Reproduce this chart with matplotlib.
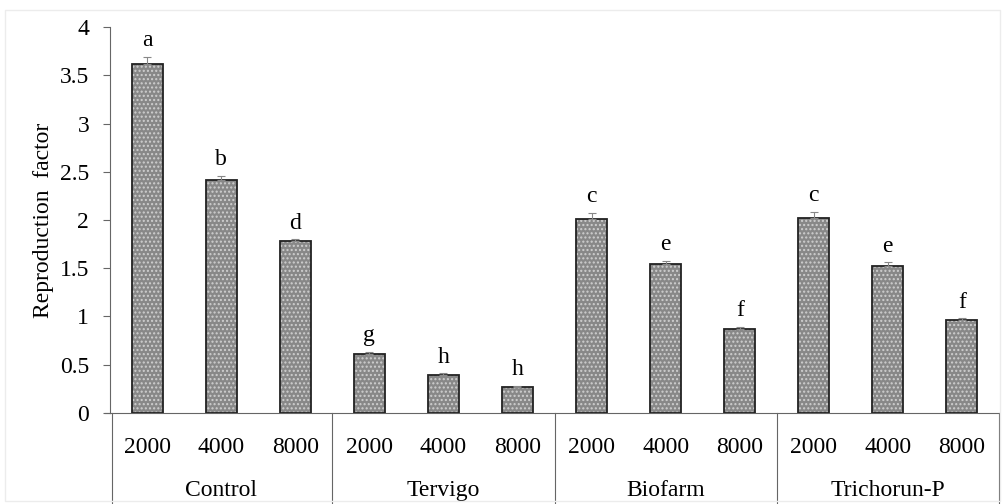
import numpy as np
import matplotlib.pyplot as plt
from matplotlib.transforms import blended_transform_factory

plt.rcParams['font.family'] = ['Liberation Serif', 'DejaVu Serif']

groups = ['Control', 'Tervigo', 'Biofarm', 'Trichorun-P']
doses = ['2000', '4000', '8000']
rf = [3.62, 2.41, 1.78,
      0.61, 0.39, 0.27,
      2.01, 1.54, 0.87,
      2.02, 1.52, 0.96]
err = [0.07, 0.05, 0.02,
       0.02, 0.02, 0.01,
       0.06, 0.04, 0.02,
       0.06, 0.04, 0.02]
letters = ['a', 'b', 'd', 'g', 'h', 'h', 'c', 'e', 'f', 'c', 'e', 'f']

fig = plt.figure(figsize=(10.05, 5.04), dpi=100)
ax = fig.add_axes([0.1095, 0.1806, 0.8845, 0.7658])

x = np.arange(len(rf))
w = 0.42
ax.bar(x, rf, w, color='#888888', edgecolor='none', zorder=2)
ax.bar(x, rf, w, fill=False, hatch='....', edgecolor='#cfcfcf', linewidth=0, zorder=3)
ax.bar(x, rf, w, fill=False, edgecolor='#222222', linewidth=1.3, zorder=4)
ax.errorbar(x, rf, yerr=[np.zeros(len(err)), err], fmt='none', ecolor='#888888',
            elinewidth=0.8, capsize=3, capthick=0.8, zorder=5)
for xi, v, e, l in zip(x, rf, err, letters):
    ax.text(xi, v + e + 0.06, l, ha='center', va='bottom', fontsize=17)

ax.set_xlim(-0.5, len(rf) - 0.5)
ax.set_ylim(0, 4)
ax.set_yticks(np.arange(0, 4.01, 0.5))
ax.set_yticklabels(['0', '0.5', '1', '1.5', '2', '2.5', '3', '3.5', '4'], fontsize=17)
ax.set_xticks(x)
ax.set_xticklabels(doses * 4, fontsize=17)
ax.tick_params(axis='x', length=0, pad=17)
ax.tick_params(axis='y', length=5, width=0.8, color='#666666', pad=10)
ax.set_ylabel('Reproduction  factor', fontsize=17, labelpad=4)

for s in ['top', 'right']:
    ax.spines[s].set_visible(False)
ax.spines['left'].set_color('#666666')
ax.spines['bottom'].set_color('#666666')
ax.spines['left'].set_linewidth(0.8)
ax.spines['bottom'].set_linewidth(0.8)

tr = blended_transform_factory(ax.transData, ax.transAxes)
for d in [-0.47, 2.5, 5.5, 8.5, 11.5]:
    ax.plot([d, d], [0, -0.236], transform=tr, color='#666666', lw=0.8, clip_on=False)
ax.plot([-0.57, -0.5], [0, 0], transform=tr, color='#666666', lw=0.8, clip_on=False)
for i, g in enumerate(groups):
    ax.text(3 * i + 1, -0.2, g, transform=tr, ha='center', va='center', fontsize=17)

fig.patches.append(plt.Rectangle((0.005, 0.005), 0.99, 0.975, transform=fig.transFigure,
                                 fill=False, edgecolor='#ececec', lw=1))

fig.savefig('out.png', dpi=100)
